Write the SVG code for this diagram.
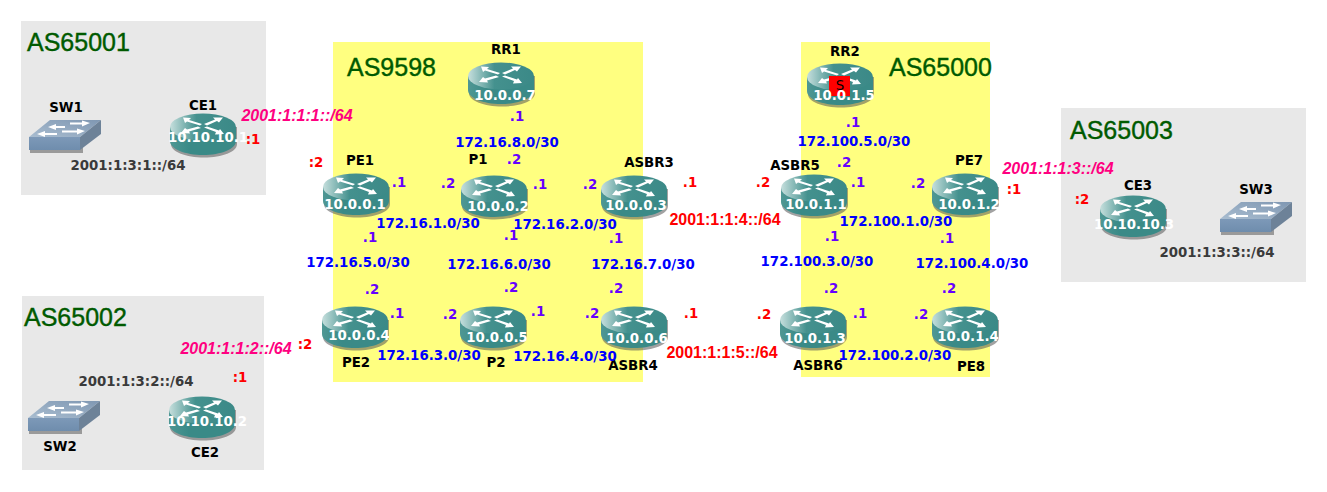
<svg xmlns="http://www.w3.org/2000/svg" width="1327" height="492" viewBox="0 0 1327 492">
<style>
text{font-family:"DejaVu Sans",sans-serif;font-weight:bold;font-size:13.33px;text-anchor:middle}
.as{font-family:"Liberation Sans",Arial,sans-serif;font-size:25px;font-weight:normal;fill:#005a00;text-anchor:start;stroke:#005a00;stroke-width:.4}
.nm{fill:#000}
.ip{fill:#fff}
.net{fill:#0000ff}
.dot{fill:#6600ff}
.col{fill:#ff0000}
.red{font-family:"Liberation Sans",Arial,sans-serif;fill:#ff0000;font-size:16px}
.pk{font-family:"Liberation Sans",Arial,sans-serif;fill:#ff0080;font-style:italic;font-size:16px}
.gr{fill:#3a3a3a}
</style>
<defs>
<linearGradient id="rt" x1="0" y1="0" x2="1" y2="0"><stop offset="0" stop-color="#c6dfdd"/><stop offset=".4" stop-color="#44918e"/><stop offset="1" stop-color="#3b8987"/></linearGradient>
<linearGradient id="rs" x1="0" y1="0" x2="1" y2="0"><stop offset="0" stop-color="#4f9794"/><stop offset=".3" stop-color="#3a8a87"/><stop offset="1" stop-color="#3a8a87"/></linearGradient>
<linearGradient id="st" x1="0" y1="1" x2="1" y2="0"><stop offset="0" stop-color="#a9bdd0"/><stop offset="1" stop-color="#7f97b2"/></linearGradient>
<linearGradient id="sf" x1="0" y1="0" x2="0" y2="1"><stop offset="0" stop-color="#7d99b8"/><stop offset="1" stop-color="#6f8dad"/></linearGradient>
<symbol id="router" width="68" height="46" viewBox="0 0 68 46" overflow="visible">
<path d="M1 14V31C1 39 16 44.500 34 44.500S67 39 67 31V14Z" fill="#555" fill-opacity=".55"/>
<path d="M0 14V28C0 36 15 42 33 42S66 36 66 28V14Z" fill="url(#rs)"/>
<ellipse cx="33" cy="14" rx="33" ry="13.500" fill="url(#rt)"/>
<path d="M13 4.500L21 5L19 7L32 11L30 12.500L17 8.500L15 10ZM53 4.500L43 4.500L45 6.500L34 11L37 12.500L47 8L49 9.500ZM11 20L20 20.500L19 18.500L31 15L28 13.500L17 16.500L15 15ZM54 21L45 21.500L46 19L34 14.500L37 13.500L49 17.500L50 16Z" fill="#fff"/>
</symbol>
<symbol id="switch" width="73" height="34" viewBox="0 0 73 34" overflow="visible">
<path d="M1 20H54V33H1Z" fill="#9a9a9a"/>
<path d="M0 17L21 0H72L51 17Z" fill="url(#st)"/>
<path d="M0 17H51V30H0Z" fill="url(#sf)"/>
<path d="M51 17L72 0V14L51 30Z" fill="#6d8298"/>
<path d="M19 7L27 4V6H36V8H27V10ZM61 3L53 0.500V2.500H41V4.500H53V6.500ZM8 14L16 11V13H28V15H16V17ZM56 11L48 8.500V10.500H33V12.500H48V14.500Z" fill="#fff"/>
</symbol>
</defs>
<g id="areas">
<rect x="21" y="21" width="245" height="174" fill="#e8e8e8"/>
<rect x="22" y="296" width="242" height="174" fill="#e8e8e8"/>
<rect x="1061" y="108" width="245" height="174" fill="#e8e8e8"/>
<rect x="333" y="42" width="310" height="340" fill="#ffff80"/>
<rect x="801" y="42" width="189" height="335" fill="#ffff80"/>
</g>
<g id="connectors"></g>
<g id="as-labels">
<text class="as" x="27" y="51">AS65001</text>
<text class="as" x="24" y="326">AS65002</text>
<text class="as" x="347" y="76">AS9598</text>
<text class="as" x="889" y="76">AS65000</text>
<text class="as" x="1070" y="139">AS65003</text>
</g>
<g id="SW1"><use href="#switch" x="29" y="120"/><text class="nm" x="66" y="112">SW1</text></g>
<g id="SW2"><use href="#switch" x="28" y="401"/><text class="nm" x="60" y="451">SW2</text></g>
<g id="SW3"><use href="#switch" x="1220" y="202"/><text class="nm" x="1256" y="194">SW3</text></g>
<g id="CE1"><use href="#router" x="170" y="113"/><text class="nm" x="203" y="110">CE1</text><text class="ip" x="208" y="142">10.10.10.1</text></g>
<g id="CE2"><use href="#router" x="169" y="396"/><text class="nm" x="205" y="457">CE2</text><text class="ip" x="207" y="426">10.10.10.2</text></g>
<g id="CE3"><use href="#router" x="1100" y="195"/><text class="nm" x="1138" y="190">CE3</text><text class="ip" x="1134" y="229">10.10.10.3</text></g>
<g id="RR1"><use href="#router" x="468" y="62"/><text class="nm" x="506" y="54">RR1</text><text class="ip" x="505" y="100">10.0.0.7</text></g>
<g id="RR2"><use href="#router" x="807" y="63"/><rect x="829" y="76" width="21" height="20" fill="#ff0000"/><text x="840" y="90" style="font-weight:normal" fill="#000">S</text><text class="nm" x="845" y="56">RR2</text><text class="ip" x="844" y="100">10.0.1.5</text></g>
<g id="PE1"><use href="#router" x="323" y="173"/><text class="nm" x="360" y="165">PE1</text><text class="ip" x="355" y="209">10.0.0.1</text></g>
<g id="P1"><use href="#router" x="461" y="175"/><text class="nm" x="478" y="164">P1</text><text class="ip" x="498" y="211">10.0.0.2</text></g>
<g id="ASBR3"><use href="#router" x="601" y="175"/><text class="nm" x="649" y="167">ASBR3</text><text class="ip" x="636" y="210">10.0.0.3</text></g>
<g id="ASBR5"><use href="#router" x="781" y="174"/><text class="nm" x="795" y="170">ASBR5</text><text class="ip" x="816" y="209">10.0.1.1</text></g>
<g id="PE7"><use href="#router" x="932" y="173"/><text class="nm" x="969" y="165">PE7</text><text class="ip" x="969" y="209">10.0.1.2</text></g>
<g id="PE2"><use href="#router" x="322" y="306"/><text class="nm" x="356" y="367">PE2</text><text class="ip" x="359" y="340">10.0.0.4</text></g>
<g id="P2"><use href="#router" x="460" y="306"/><text class="nm" x="496" y="367">P2</text><text class="ip" x="497" y="342">10.0.0.5</text></g>
<g id="ASBR4"><use href="#router" x="601" y="306"/><text class="nm" x="633" y="370">ASBR4</text><text class="ip" x="637" y="343">10.0.0.6</text></g>
<g id="ASBR6"><use href="#router" x="780" y="306"/><text class="nm" x="818" y="370">ASBR6</text><text class="ip" x="815" y="343">10.0.1.3</text></g>
<g id="PE8"><use href="#router" x="932" y="306"/><text class="nm" x="971" y="371">PE8</text><text class="ip" x="968" y="341">10.0.1.4</text></g>
<g id="link-labels">
<text class="net" x="507" y="147">172.16.8.0/30</text>
<text class="net" x="428" y="228">172.16.1.0/30</text>
<text class="net" x="565" y="229">172.16.2.0/30</text>
<text class="net" x="358" y="267">172.16.5.0/30</text>
<text class="net" x="499" y="269">172.16.6.0/30</text>
<text class="net" x="643" y="269">172.16.7.0/30</text>
<text class="net" x="429" y="360">172.16.3.0/30</text>
<text class="net" x="565" y="361">172.16.4.0/30</text>
<text class="net" x="854" y="146">172.100.5.0/30</text>
<text class="net" x="896" y="226">172.100.1.0/30</text>
<text class="net" x="817" y="266">172.100.3.0/30</text>
<text class="net" x="972" y="268">172.100.4.0/30</text>
<text class="net" x="895" y="360">172.100.2.0/30</text>
<text class="dot" x="517" y="121">.1</text><text class="dot" x="514" y="164">.2</text>
<text class="dot" x="399" y="187">.1</text><text class="dot" x="448" y="188">.2</text>
<text class="dot" x="540" y="189">.1</text><text class="dot" x="590" y="189">.2</text>
<text class="dot" x="370" y="242">.1</text><text class="dot" x="372" y="294">.2</text>
<text class="dot" x="511" y="240">.1</text><text class="dot" x="511" y="292">.2</text>
<text class="dot" x="616" y="243">.1</text><text class="dot" x="616" y="293">.2</text>
<text class="dot" x="397" y="318">.1</text><text class="dot" x="450" y="319">.2</text>
<text class="dot" x="538" y="316">.1</text><text class="dot" x="592" y="318">.2</text>
<text class="dot" x="853" y="127">.1</text><text class="dot" x="844" y="167">.2</text>
<text class="dot" x="858" y="187">.1</text><text class="dot" x="918" y="188">.2</text>
<text class="dot" x="832" y="241">.1</text><text class="dot" x="831" y="293">.2</text>
<text class="dot" x="947" y="243">.1</text><text class="dot" x="949" y="293">.2</text>
<text class="dot" x="860" y="318">.1</text><text class="dot" x="921" y="319">.2</text>
<text class="col" x="253" y="144">:1</text><text class="col" x="316" y="167">:2</text>
<text class="col" x="240" y="382">:1</text><text class="col" x="305" y="349">:2</text>
<text class="col" x="1014" y="194">:1</text><text class="col" x="1082" y="204">:2</text>
<text class="col" x="690" y="187">.1</text><text class="col" x="763" y="187">.2</text>
<text class="col" x="691" y="318">.1</text><text class="col" x="764" y="319">.2</text>
<text class="red" x="725" y="225">2001:1:1:4::/64</text>
<text class="red" x="722" y="358">2001:1:1:5::/64</text>
<text class="pk" x="297" y="121">2001:1:1:1::/64</text>
<text class="pk" x="236" y="354">2001:1:1:2::/64</text>
<text class="pk" x="1058" y="174">2001:1:1:3::/64</text>
<text class="gr" x="128" y="170">2001:1:3:1::/64</text>
<text class="gr" x="136" y="386">2001:1:3:2::/64</text>
<text class="gr" x="1217" y="257">2001:1:3:3::/64</text>
</g>
</svg>
